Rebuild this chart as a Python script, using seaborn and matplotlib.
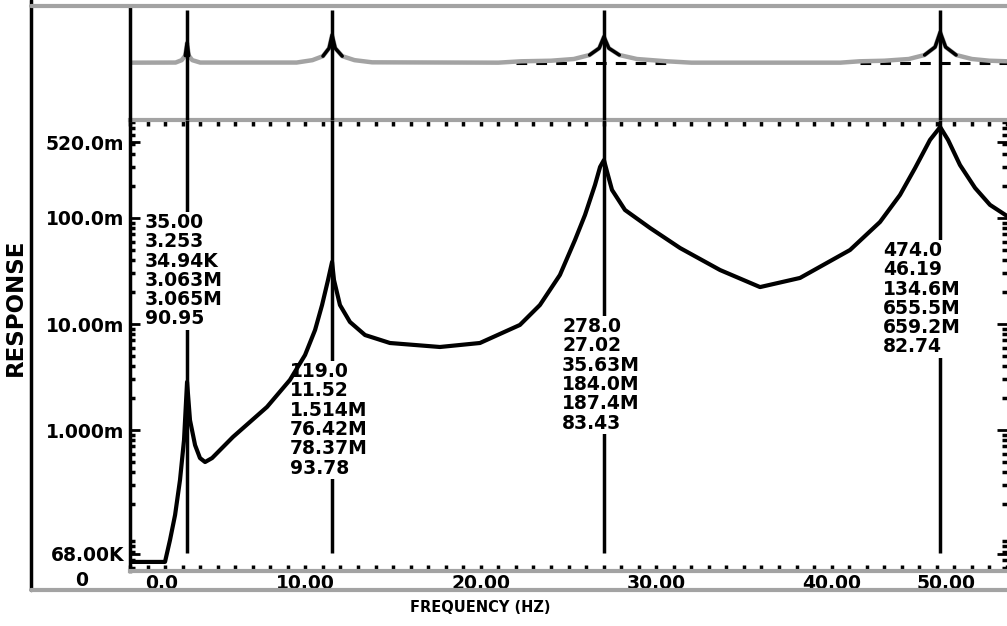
import numpy as np
import pandas as pd
import matplotlib
matplotlib.use("Agg")
import matplotlib.pyplot as plt
from matplotlib.lines import Line2D
from matplotlib.ticker import FixedLocator, LogLocator, MultipleLocator, NullFormatter
import seaborn as sns

# ---------------- data ----------------
freq = [0.0, 1.995, 2.28, 2.57, 2.85, 3.08, 3.253, 3.42, 3.71, 3.99, 4.28, 4.68,
        5.87, 7.81, 9.12, 9.98, 10.55, 10.95, 11.29, 11.52, 11.63, 11.97, 12.54,
        13.4, 14.82, 17.67, 19.95, 22.23, 23.37, 24.51, 25.37, 25.94, 26.51,
        26.8, 27.02, 27.2, 27.48, 28.22, 29.65, 31.36, 33.64, 35.92, 38.2,
        41.05, 42.76, 43.9, 44.76, 45.61, 46.19, 46.64, 47.32, 48.18, 49.03, 50.0]
response = [5.7e-5, 5.7e-5, 9.16e-5, 1.58e-4, 3.37e-4, 8.05e-4, 2.84e-3, 1.24e-3,
            7.2e-4, 5.44e-4, 4.99e-4, 5.44e-4, 8.6e-4, 1.65e-3, 2.97e-3, 5.1e-3,
            8.77e-3, 0.0151, 0.026, 0.0385, 0.026, 0.0151, 0.01045, 7.87e-3,
            6.62e-3, 6.07e-3, 6.62e-3, 9.8e-3, 0.0151, 0.029, 0.062, 0.1067,
            0.205, 0.303, 0.352, 0.272, 0.184, 0.119, 0.0805, 0.0521, 0.0323,
            0.0223, 0.0272, 0.0499, 0.0917, 0.165, 0.296, 0.545, 0.721, 0.545,
            0.316, 0.192, 0.133, 0.1044]

peak_freq = [3.253, 11.52, 27.02, 46.19]

top_freq = [0.0, 2.6, 2.95, 3.15, 3.253, 3.35, 3.55, 4.0, 9.5, 10.4, 11.0, 11.35,
            11.52, 11.7, 12.1, 12.8, 13.8, 21.0, 22.3, 24.0, 25.3, 26.2, 26.75,
            27.02, 27.3, 27.9, 28.9, 30.6, 32.0, 40.5, 41.6, 43.0, 44.4, 45.3,
            45.9, 46.19, 46.5, 47.1, 48.0, 49.0, 50.0]
top_level = [0.503, 0.504, 0.525, 0.565, 0.675, 0.565, 0.525, 0.504, 0.504, 0.525,
             0.56, 0.63, 0.745, 0.63, 0.56, 0.525, 0.506, 0.503, 0.515, 0.52, 0.535,
             0.57, 0.63, 0.73, 0.63, 0.57, 0.535, 0.515, 0.503, 0.503, 0.515, 0.52,
             0.535, 0.57, 0.64, 0.77, 0.64, 0.57, 0.535, 0.52, 0.515]
# dashed reference trace, visible only near the two upper modes
dash_freq = [22.0, 30.6, np.nan, 41.6, 50.0]
dash_level = [0.497, 0.497, np.nan, 0.497, 0.497]

peak_tables = [
    ["35.00", "3.253", "34.94K", "3.063M", "3.065M", "90.95"],
    ["119.0", "11.52", "1.514M", "76.42M", "78.37M", "93.78"],
    ["278.0", "27.02", "35.63M", "184.0M", "187.4M", "83.43"],
    ["474.0", "46.19", "134.6M", "655.5M", "659.2M", "82.74"],
]

xtick_labels = ["0.0", "10.00", "20.00", "30.00", "40.00", "50.00"]
ytick_values = [6.8e-5, 1e-3, 1e-2, 1e-1, 0.52]
ytick_labels = ["68.00K", "1.000m", "10.00m", "100.0m", "520.0m"]

# ---------------- layout ----------------
W, H = 1007, 626
def fx(px):
    return px / W
def fy(py):
    return 1 - py / H

GRAY = "#a3a3a3"
FONT = "DejaVu Sans"

sns.set_theme(style="white")
plt.rcParams["font.family"] = [FONT]

fig = plt.figure(figsize=(W / 100, H / 100), dpi=100)
fig.patch.set_facecolor("white")

ax = fig.add_axes([fx(130), fy(571), 1 - fx(130), fy(120) - fy(571)])
ax_top = fig.add_axes([fx(130), fy(120), 1 - fx(130), fy(6) - fy(120)])

# ---- main response plot ----
df = pd.DataFrame({"freq": freq, "response": response})
sns.lineplot(data=df, x="freq", y="response", ax=ax, color="black", linewidth=3,
             estimator=None, sort=False, legend=False)
ax.lines[-1].set_zorder(5)
ax.set_yscale("log")
ax.set_xlim(0, 50)
ax.set_ylim(4.68e-5, 0.84)
ax.vlines(peak_freq, 6.9e-5, 0.84, color="black", lw=2.5, zorder=3)

# peak annotation blocks (left edge freq, top value)
block_pos = [(0.86, 0.1115), (9.12, 4.38e-3), (24.63, 0.01164), (42.93, 0.0607)]
for (bx, by), rows in zip(block_pos, peak_tables):
    ax.text(bx, by, "\n".join(rows), ha="left", va="top", fontsize=13.5,
            fontweight="bold", color="black", linespacing=1.02,
            bbox=dict(facecolor="white", edgecolor="none", pad=1.0), zorder=4)

# axes ticks
ax.xaxis.remove_overlapping_locs = False
ax.xaxis.set_major_locator(FixedLocator([1.8, 10, 20, 30, 40, 46.5]))
ax.set_xticklabels(xtick_labels)
ax.xaxis.set_minor_locator(MultipleLocator(1))
ax.xaxis.set_minor_formatter(NullFormatter())
ax.yaxis.set_major_locator(FixedLocator(ytick_values))
ax.set_yticklabels(ytick_labels)
ax.yaxis.set_minor_locator(LogLocator(base=10, subs=np.arange(2, 10), numticks=20))
ax.yaxis.set_minor_formatter(NullFormatter())

ax.tick_params(axis="x", which="major", length=0, pad=2, labelsize=13.5,
               labelcolor="black")
ax.tick_params(axis="x", which="minor", direction="in", length=4, width=2.5,
               color="black", top=True, bottom=True)
ax.tick_params(axis="y", which="major", direction="in", length=7, width=2,
               color="black", left=True, right=True, pad=4, labelsize=13.5,
               labelcolor="black")
ax.tick_params(axis="y", which="minor", direction="in", length=3.5, width=2.5,
               color="black", left=True, right=True)
for lab in ax.get_xticklabels() + ax.get_yticklabels():
    lab.set_fontweight("bold")

ax.set_xlabel("")
ax.set_ylabel("")
ax.spines["left"].set_color("black")
ax.spines["left"].set_linewidth(2.5)
for s in ("bottom", "top"):
    ax.spines[s].set_color(GRAY)
    ax.spines[s].set_linewidth(3)
ax.spines["right"].set_visible(False)
ax.set_facecolor("none")

# ---- top strip ----
ax_top.plot(dash_freq, dash_level, color="black", lw=2.2, ls=(0, (3.5, 3)),
            zorder=1)
ax_top.plot(top_freq, top_level, color=GRAY, lw=3.2, zorder=2,
            solid_capstyle="butt")
lv = np.array(top_level)
cusp = np.where(lv >= 0.54, lv, np.nan)
ax_top.plot(top_freq, cusp, color="black", lw=2.5, zorder=3)
ax_top.vlines(peak_freq, 0, 0.965, color="black", lw=2.5, zorder=4)
ax_top.set_xlim(0, 50)
ax_top.set_ylim(0, 1)
ax_top.set_xticks([])
ax_top.set_yticks([])
ax_top.set_xlabel("")
ax_top.set_ylabel("")
for s in ("top", "bottom", "right"):
    ax_top.spines[s].set_visible(False)
ax_top.spines["left"].set_color("black")
ax_top.spines["left"].set_linewidth(2.5)
ax_top.set_facecolor("none")

# ---- outer frame ----
fig.add_artist(Line2D([fx(31), fx(31)], [fy(0), fy(590)], color="black", lw=2.5))
fig.add_artist(Line2D([fx(31), 1], [fy(590), fy(590)], color=GRAY, lw=3))
fig.add_artist(Line2D([fx(31), 1], [fy(6), fy(6)], color=GRAY, lw=3))

# ---- axis titles and stray origin label ----
fig.text(fx(82), fy(580), "0", ha="center", va="center", fontsize=13.5,
         fontweight="bold", color="black")
fig.text(fx(480), fy(607), "FREQUENCY (HZ)", ha="center", va="center",
         fontsize=10.5, fontweight="bold", color="black")
fig.text(fx(15), fy(307), "RESPONSE", ha="center", va="center", rotation=90,
         fontsize=16.5, fontweight="bold", color="black")

fig.savefig("out.png", dpi=100, facecolor="white")
